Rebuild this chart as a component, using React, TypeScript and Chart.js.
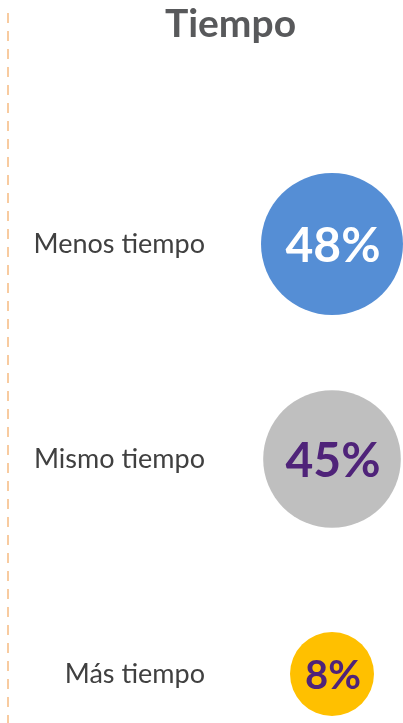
import React, { useEffect, useRef } from "react";
import { Chart, registerables } from "chart.js";

Chart.register(...registerables);

const title = "Tiempo";
const categories = ["Menos tiempo", "Mismo tiempo", "Más tiempo"];
const percentages = [48, 45, 8];
const bubbleColors = ["#558ED5", "#BFBFBF", "#FFC000"];
const labelColors = ["#FFFFFF", "#4F2379", "#4F2379"];

const radiusFor = (v: number) => 42 + (v - 8) * 0.725;

export default function App() {
  const ref = useRef<HTMLCanvasElement | null>(null);

  useEffect(() => {
    if (!ref.current) return;

    const decor = {
      id: "decor",
      beforeDraw(chart: any) {
        const { ctx } = chart;
        ctx.save();
        ctx.fillStyle = "#FFFFFF";
        ctx.fillRect(0, 0, chart.width, chart.height);
        ctx.strokeStyle = "#F8CBA0";
        ctx.lineWidth = 2;
        ctx.setLineDash([10, 8]);
        ctx.beginPath();
        ctx.moveTo(8, 13);
        ctx.lineTo(8, chart.height);
        ctx.stroke();
        ctx.restore();

        ctx.save();
        ctx.font = "bold 39px Lato";
        ctx.fillStyle = "#58595B";
        ctx.textAlign = "center";
        ctx.textBaseline = "alphabetic";
        ctx.fillText(title, 230.5, 37);
        ctx.restore();
      },
      afterDatasetsDraw(chart: any) {
        const { ctx } = chart;
        const meta = chart.getDatasetMeta(0);
        meta.data.forEach((el: any, i: number) => {
          const v = percentages[i];
          const size = v > 20 ? 48 : 40;
          ctx.save();
          ctx.font = `bold ${size}px Lato`;
          ctx.fillStyle = labelColors[i];
          ctx.textAlign = "center";
          ctx.textBaseline = "alphabetic";
          const text = `${v}%`;
          const m = ctx.measureText(text);
          const asc = m.actualBoundingBoxAscent;
          ctx.fillText(text, el.x + 1, el.y + asc / 2);
          ctx.restore();
        });
      },
    };

    const chart = new Chart(ref.current, {
      type: "bubble",
      data: {
        datasets: [
          {
            data: percentages.map((v, i) => ({ x: 0, y: i, v })),
            backgroundColor: bubbleColors,
            borderWidth: 0,
            radius: (c: any) => radiusFor(percentages[c.dataIndex]),
            hoverRadius: 0,
            clip: false,
          } as any,
        ],
      },
      options: {
        animation: false,
        responsive: false,
        maintainAspectRatio: false,
        devicePixelRatio: 1,
        layout: { padding: 0, autoPadding: false },
        plugins: {
          legend: { display: false },
          tooltip: { enabled: false },
          title: { display: false },
        },
        scales: {
          x: {
            type: "linear",
            display: false,
            min: -1,
            max: 1,
          },
          y: {
            type: "linear",
            reverse: true,
            min: -1.1349,
            max: 2.2279,
            border: { display: false },
            grid: { display: false, drawTicks: false },
            afterBuildTicks: (scale: any) => {
              scale.ticks = categories.map((_, i) => ({ value: i }));
            },
            afterFit: (scale: any) => {
              scale.width = 261;
              scale.paddingTop = 0;
              scale.paddingBottom = 0;
            },
            ticks: {
              padding: 56,
              color: "#404040",
              font: { family: "Lato", size: 27 },
              callback: (value: any) => categories[value as number] ?? "",
            },
          },
        },
      },
      plugins: [decor],
    });

    return () => chart.destroy();
  }, []);

  return (
    <div style={{ position: "absolute", left: 0, top: 0, width: 403, height: 723, background: "#fff" }}>
      <canvas ref={ref} width={403} height={723} style={{ display: "block", width: 403, height: 723 }} />
    </div>
  );
}
